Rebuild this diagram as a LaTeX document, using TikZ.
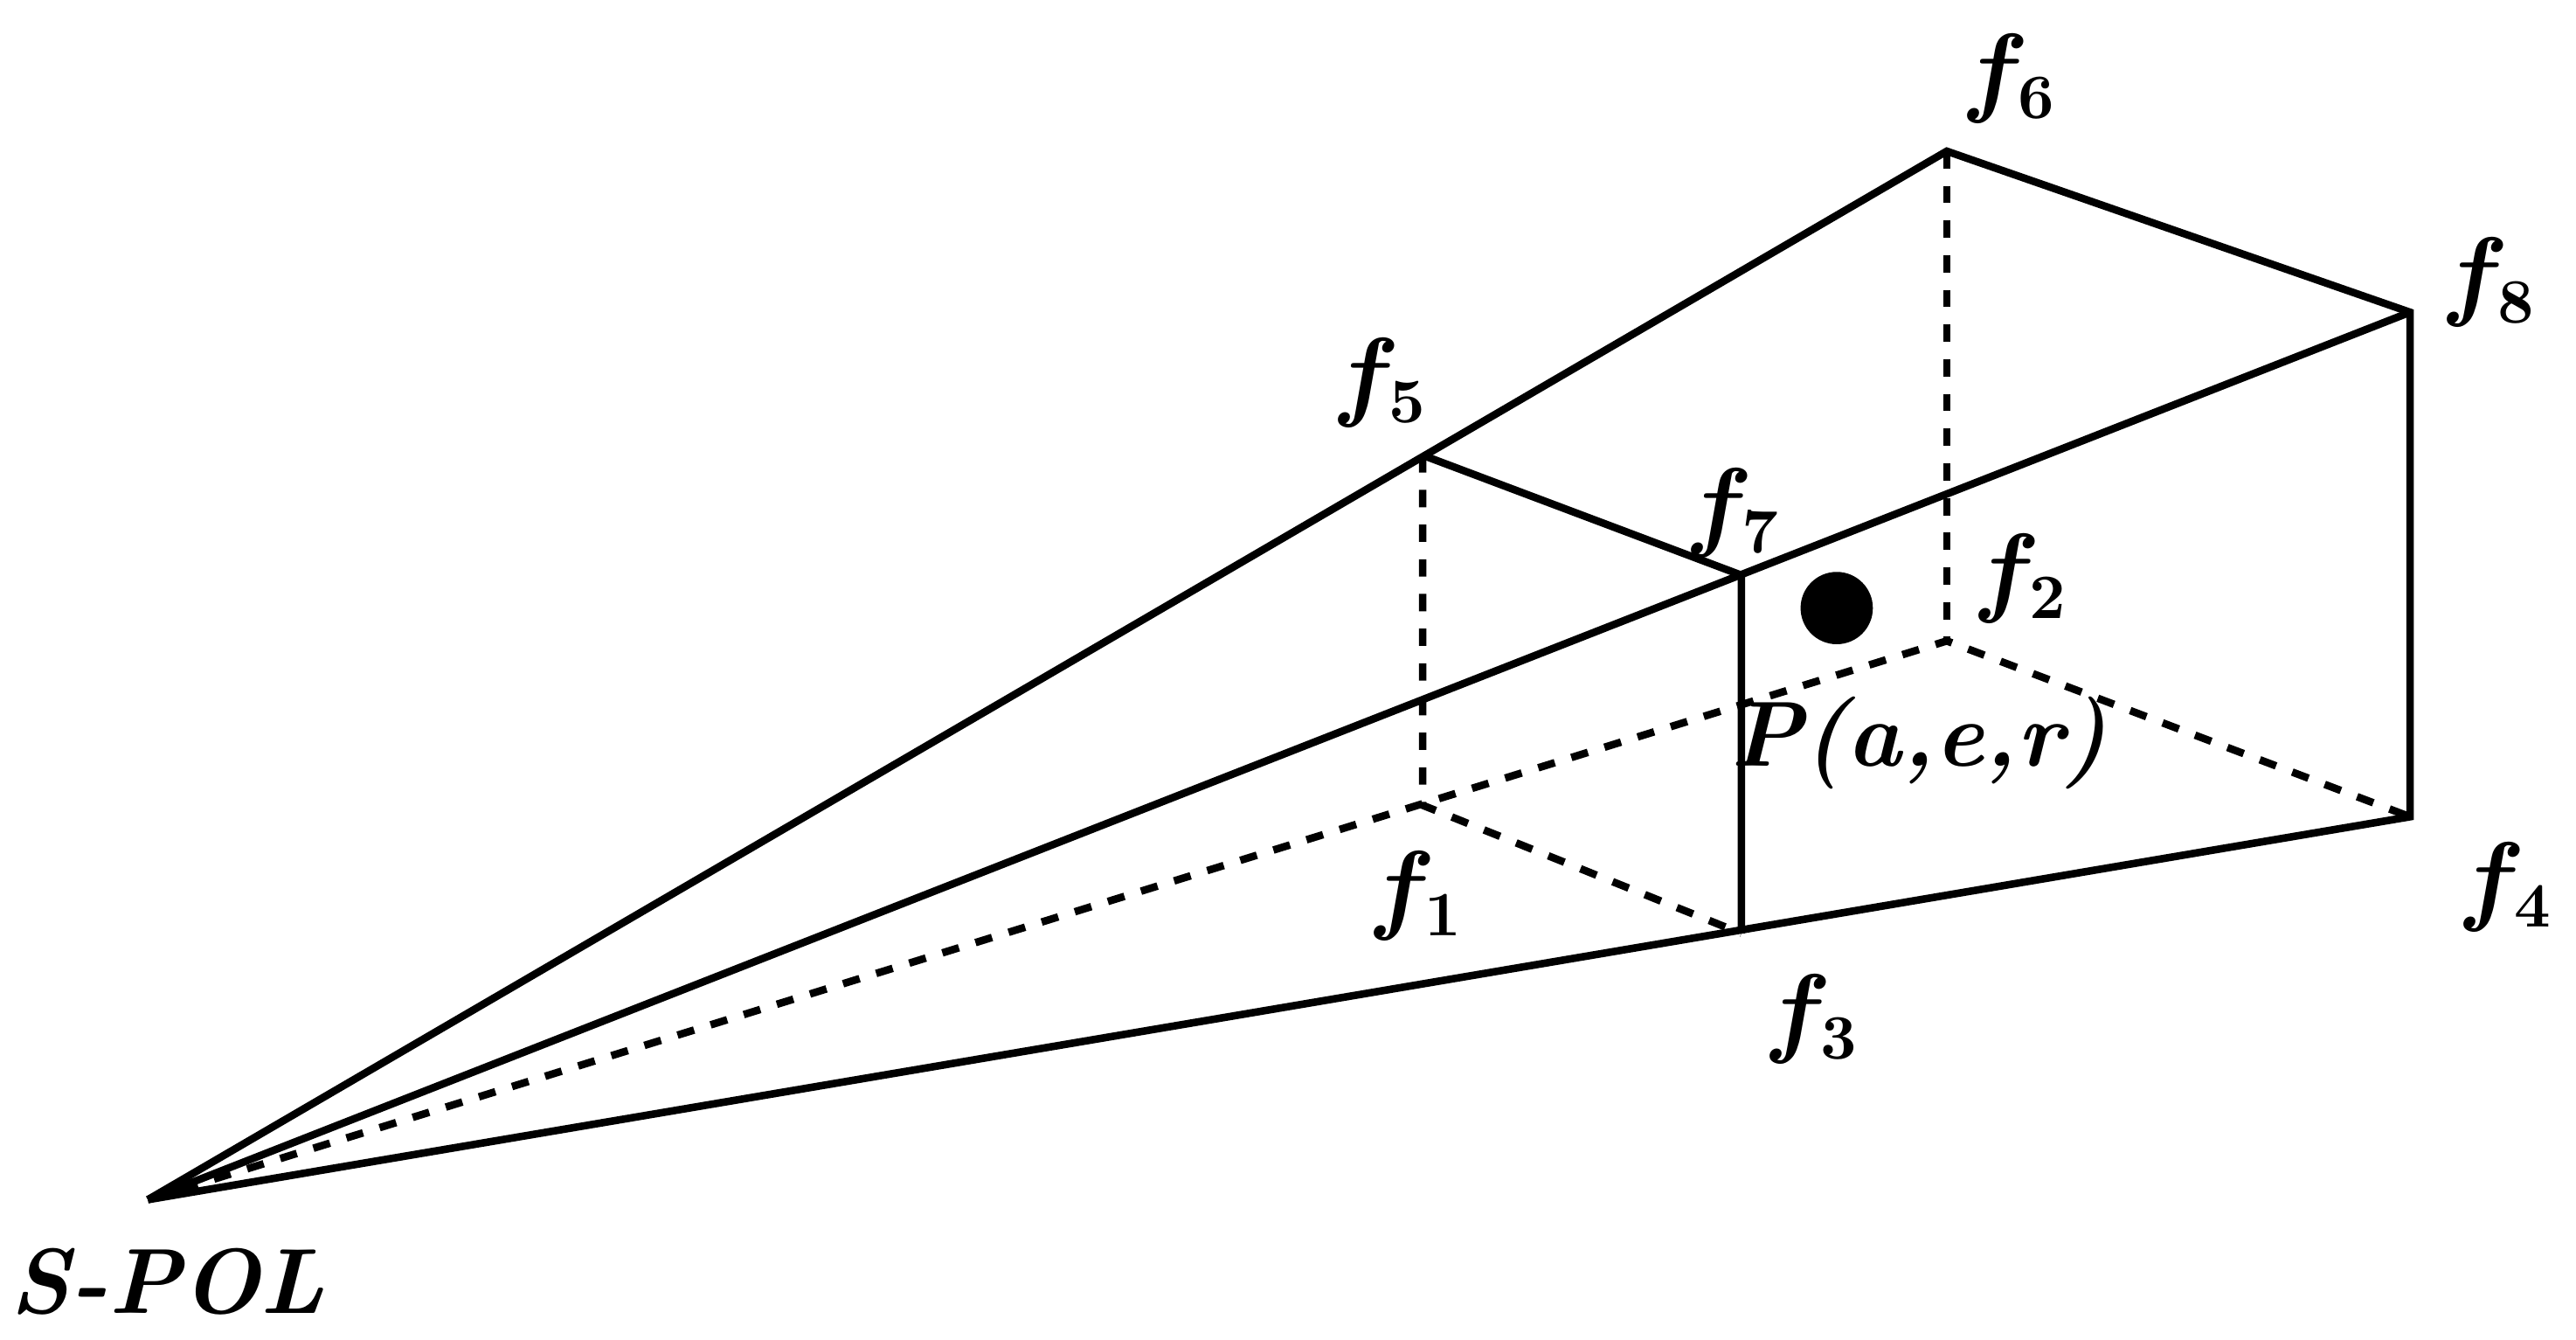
\documentclass[tikz,border=0pt]{standalone}
\usepackage{tikz}
\usepackage{amsmath,bm}

\begin{document}
\begin{tikzpicture}[x=0.01cm,y=-0.01cm,line width=1.3pt,
    lbl/.style={font=\fontsize{16}{19}\selectfont\bfseries\itshape}]
            \useasboundingbox (0,0) rectangle (1568,815);
            % Corners
            \coordinate (S) at (90,730);
            \coordinate (f1) at (866,490);
            \coordinate (f2) at (1185,390);
            \coordinate (f3) at (1060,568);
            \coordinate (f4) at (1467,497);
            \coordinate (f5) at (866,277);
            \coordinate (f6) at (1185,92);
            \coordinate (f7) at (1060,350);
            \coordinate (f8) at (1467,190);

            % Solid edges
            \draw (S) -- (f6) -- (f8) -- (f4) -- (S);
            \draw (S) -- (f8);
            \draw (f5) -- (f7) -- (f3);

            % Hidden edges
            \draw[dashed] (S) -- (f2) -- (f4);
            \draw[dashed] (f5) -- (f1) -- (f3);
            \draw[dashed] (f6) -- (f2);

            % Point
            \fill (1118,370) circle (22);

            % Labels
            \node[lbl] (l1) at (862,545) {$\bm{f}_{\bm 1}$};
            \node[lbl] (l2) at (1230,352) {$\bm{f}_{\bm 2}$};
            \node[lbl] (l3) at (1103,620) {$\bm{f}_{\bm 3}$};
            \node[lbl] (l4) at (1525,540) {$\bm{f}_{\bm 4}$};
            \node[lbl] (l5) at (840,233) {$\bm{f}_{\bm 5}$};
            \node[lbl] (l6) at (1223,48) {$\bm{f}_{\bm 6}$};
            \node[lbl] (l7) at (1055,312) {$\bm{f}_{\bm 7}$};
            \node[lbl] (l8) at (1515,172) {$\bm{f}_{\bm 8}$};
            \node[lbl] (lp) at (1168,452) {P(a,e,r)};
            \node[lbl] (ls) at (102,780) {S-POL};
\end{tikzpicture}
\end{document}
